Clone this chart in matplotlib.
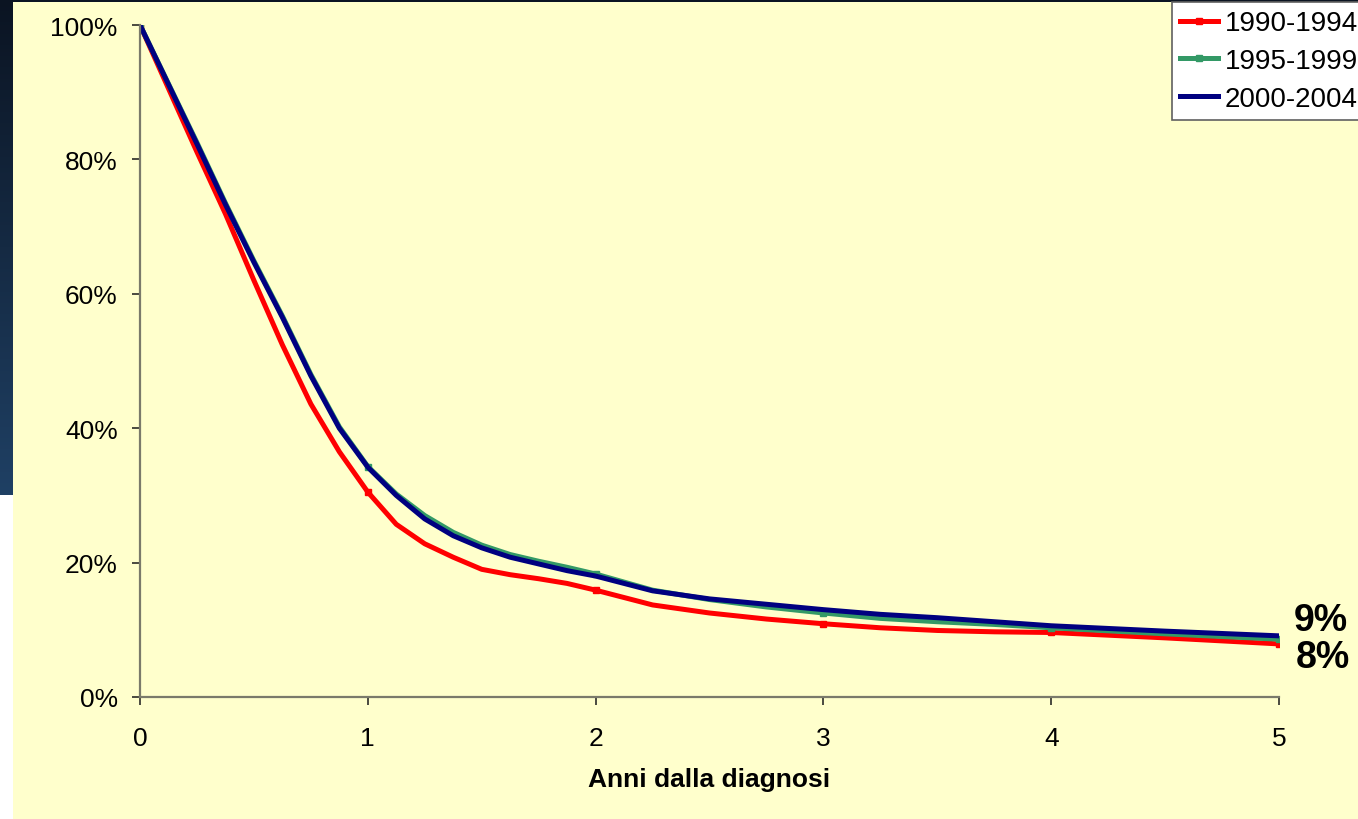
import numpy as np
import matplotlib
matplotlib.use("Agg")
import matplotlib.pyplot as plt
from matplotlib.patches import Rectangle
from matplotlib.ticker import PercentFormatter

plt.rcParams['font.family'] = ['Liberation Sans', 'DejaVu Sans']

years = [0, 0.25, 0.375, 0.5, 0.625, 0.75, 0.875, 1, 1.125, 1.25, 1.375, 1.5, 1.625, 1.75, 1.875,
         2, 2.25, 2.5, 2.75, 3, 3.25, 3.5, 3.75, 4, 4.5, 5]
s_1990 = [100, 81.1, 71.9, 62.0, 52.4, 43.6, 36.5, 30.5, 25.7, 22.8, 20.8, 19.0, 18.2, 17.6, 16.9,
          15.9, 13.7, 12.5, 11.6, 10.9, 10.3, 9.9, 9.7, 9.6, 8.8, 7.9]
s_1995 = [100, 82.5, 73.5, 64.9, 56.7, 48.0, 40.2, 34.3, 30.2, 27.0, 24.5, 22.6, 21.2, 20.2, 19.3,
          18.3, 15.9, 14.5, 13.4, 12.5, 11.7, 11.2, 10.8, 10.3, 9.4, 8.6]
s_2000 = [100, 82.3, 73.3, 64.7, 56.5, 47.8, 40.0, 34.2, 30.0, 26.5, 24.0, 22.2, 20.8, 19.8, 18.8,
          18.0, 15.8, 14.6, 13.8, 13.0, 12.3, 11.8, 11.2, 10.6, 9.8, 9.1]
labels = ['1990-1994', '1995-1999', '2000-2004']
end_labels = ['9%', '8%']
xticks = [0, 1, 2, 3, 4, 5]
yticks = [0, 20, 40, 60, 80, 100]

W, H = 1358, 820
fig = plt.figure(figsize=(W / 100, H / 100), dpi=100, facecolor='white')

# background slide elements
bg = fig.add_axes([0, 0, 1, 1], zorder=0)
bg.set_xlim(0, W)
bg.set_ylim(H, 0)
bg.axis('off')
grad = np.linspace(0, 1, 256).reshape(-1, 1)
top = np.array([0x0b, 0x14, 0x22]) / 255
bot = np.array([0x1f, 0x40, 0x64]) / 255
img = top[None, None, :] * (1 - grad[:, :, None]) + bot[None, None, :] * grad[:, :, None]
img = np.repeat(img, 2, axis=1)
bg.imshow(img, extent=(0, W, 496, 0), aspect='auto', interpolation='bilinear')
bg.add_patch(Rectangle((13, 3), W - 13, H - 3, facecolor='#FFFFCC', edgecolor='none'))

ax = fig.add_axes([140 / W, 122 / H, (1279 - 140) / W, (698 - 26) / H], zorder=2)
ax.set_facecolor('none')

mk = [i for i, y in enumerate(years) if float(y).is_integer()]
ax.plot(years, s_1990, color='#FF0000', lw=3.6, marker='s', ms=4, markevery=mk,
        label=labels[0], solid_joinstyle='round')
ax.plot(years, s_1995, color='#339966', lw=3.6, marker='s', ms=4, markevery=mk,
        label=labels[1], solid_joinstyle='round')
ax.plot(years, s_2000, color='#000080', lw=3.6, label=labels[2], solid_joinstyle='round')

ax.set_xlim(0, 5)
ax.set_ylim(0, 100)
ax.set_xticks(xticks)
ax.set_yticks(yticks)
ax.yaxis.set_major_formatter(PercentFormatter(100, decimals=0))
for s in ['top', 'right']:
    ax.spines[s].set_visible(False)
for s in ['left', 'bottom']:
    ax.spines[s].set_color('#7a7a6a')
    ax.spines[s].set_linewidth(1.6)
ax.tick_params(axis='both', direction='out', length=6, width=1.4, color='#4a4a40',
               labelsize=19)
ax.tick_params(axis='x', pad=15)
ax.tick_params(axis='y', pad=10)
ax.set_xlabel('Anni dalla diagnosi', fontsize=19, fontweight='bold', labelpad=12)

leg = ax.legend(loc='upper left', bbox_to_anchor=(1172 / W, 1 - 3 / H), bbox_transform=fig.transFigure,
                fontsize=20, frameon=True, fancybox=False, edgecolor='#606060', framealpha=1,
                handlelength=1.35, handletextpad=0.25, labelspacing=0.42, borderpad=0.3,
                borderaxespad=0)
leg.get_frame().set_linewidth(1.2)

fig.text(1321 / W, 1 - 621 / H, end_labels[0], fontsize=27, fontweight='bold', ha='center', va='center', zorder=3)
fig.text(1323 / W, 1 - 658 / H, end_labels[1], fontsize=27, fontweight='bold', ha='center', va='center', zorder=3)

fig.savefig('out.png', dpi=100, facecolor='white')
